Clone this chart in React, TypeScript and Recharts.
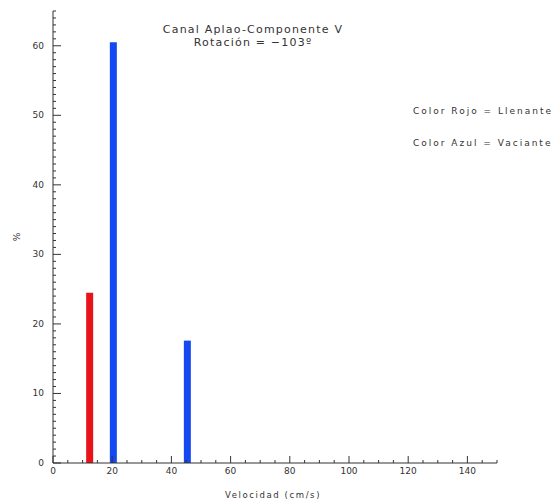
import { BarChart, Bar, XAxis, YAxis, Cell } from 'recharts';

const velocities = [12.5, 20.5, 45.5];
const percentages = [24.5, 60.5, 17.6];
const types = ['Llenante', 'Vaciante', 'Vaciante'];

const xTicks = [0, 5, 10, 15, 20, 25, 30, 35, 40, 45, 50, 55, 60, 65, 70, 75, 80, 85, 90, 95, 100, 105, 110, 115, 120, 125, 130, 135, 140, 145, 150];
const yTicks = [
  0, 1, 2, 3, 4, 5, 6, 7, 8, 9, 10, 11, 12, 13, 14, 15, 16, 17, 18, 19, 20, 21, 22, 23, 24, 25, 26, 27, 28, 29, 30,
  31, 32, 33, 34, 35, 36, 37, 38, 39, 40, 41, 42, 43, 44, 45, 46, 47, 48, 49, 50, 51, 52, 53, 54, 55, 56, 57, 58, 59,
  60, 61, 62, 63, 64, 65,
];

const data = velocities.map((v, i) => ({ v, pct: percentages[i], type: types[i] }));

const colors: Record<string, string> = { Llenante: '#e8121a', Vaciante: '#1448f0' };
const ink = '#333';
const font = '"DejaVu Sans", sans-serif';

const XTick = ({ x, y, payload }: any) => {
  const major = payload.value % 20 === 0 && payload.value <= 140;
  return (
    <g>
      <line x1={x} x2={x} y1={y} y2={y - (payload.value % 20 === 0 ? 7 : 3)} stroke={ink} />
      {major && (
        <text x={x} y={y + 11} textAnchor="middle" fontSize={9} fill={ink} fontFamily={font}>
          {payload.value}
        </text>
      )}
    </g>
  );
};

const YTick = ({ x, y, payload }: any) => {
  const major = payload.value % 10 === 0;
  return (
    <g>
      <line x1={x} x2={x + (major ? 8 : 3)} y1={y} y2={y} stroke={ink} />
      {major && (
        <text x={x - 9} y={y + 3} textAnchor="end" fontSize={9} fill={ink} fontFamily={font}>
          {payload.value}
        </text>
      )}
    </g>
  );
};

const App = () => {
  return (
    <div style={{ position: 'absolute', left: 0, top: 0, width: 557, height: 504, background: '#fff' }}>
      <BarChart width={557} height={504} data={data} margin={{ top: 11, right: 60, bottom: 11, left: 0 }}>
        <XAxis
          dataKey="v"
          type="number"
          domain={[0, 150]}
          ticks={xTicks}
          interval={0}
          height={30}
          tickSize={0}
          tickMargin={0}
          tick={<XTick />}
          stroke={ink}
          allowDataOverflow
        />
        <YAxis
          type="number"
          domain={[0, 65]}
          ticks={yTicks}
          interval={0}
          width={53}
          tickSize={0}
          tickMargin={0}
          tick={<YTick />}
          stroke={ink}
        />
        <Bar dataKey="pct" barSize={7} isAnimationActive={false}>
          {data.map((d, i) => (
            <Cell key={i} fill={colors[d.type]} />
          ))}
        </Bar>
        <text x={253} y={33} textAnchor="middle" fontSize={11} letterSpacing={1.2} fill={ink} fontFamily={font}>
          Canal Aplao-Componente V
        </text>
        <text x={253} y={46} textAnchor="middle" fontSize={11} letterSpacing={1.2} fill={ink} fontFamily={font}>
          Rotación = −103º
        </text>
        <text x={413} y={114} fontSize={9} letterSpacing={2} fill={ink} fontFamily={font}>
          Color Rojo = Llenante
        </text>
        <text x={413} y={146} fontSize={9} letterSpacing={2} fill={ink} fontFamily={font}>
          Color Azul = Vaciante
        </text>
        <text x={273} y={498} textAnchor="middle" fontSize={8.5} letterSpacing={1.6} fill={ink} fontFamily={font}>
          Velocidad (cm/s)
        </text>
        <text x={20} y={237} textAnchor="middle" fontSize={9} fill={ink} fontFamily={font} transform="rotate(-90 20 237)">
          %
        </text>
      </BarChart>
    </div>
  );
};

export default App;
